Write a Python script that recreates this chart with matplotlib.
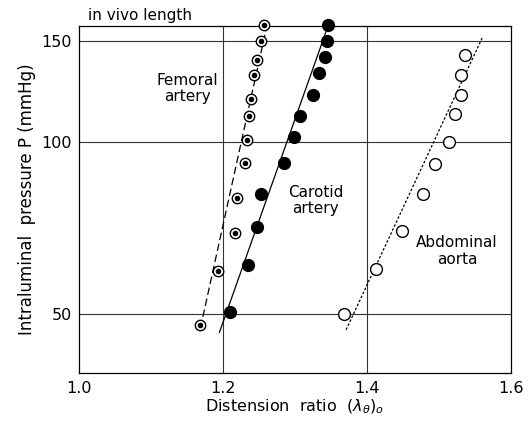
import matplotlib
matplotlib.use('Agg')
import matplotlib.pyplot as plt

# (distension ratio, pressure mmHg)
femoral_x = [1.257, 1.253, 1.247, 1.243, 1.239, 1.236, 1.233, 1.231, 1.219, 1.217, 1.193, 1.168]
femoral_p = [160, 150, 139, 131, 119, 111, 101, 92, 80, 69.5, 59.5, 48]
carotid_x = [1.346, 1.344, 1.342, 1.333, 1.325, 1.307, 1.299, 1.285, 1.253, 1.247, 1.235, 1.210]
carotid_p = [160, 150, 141, 132, 121, 111, 102, 92, 81, 71, 61, 50.5]
aorta_x = [1.536, 1.531, 1.531, 1.522, 1.514, 1.494, 1.478, 1.449, 1.413, 1.368]
aorta_p = [142, 131, 121, 112, 100, 91.5, 81, 70, 60, 50]

# fitted lines (end points)
femoral_fit_x = [1.172, 1.262]
femoral_fit_p = [49.5, 162]
carotid_fit_x = [1.195, 1.347]
carotid_fit_p = [46.5, 161]
aorta_fit_x = [1.371, 1.561]
aorta_fit_p = [47, 153]

xticks = [1.0, 1.2, 1.4, 1.6]
yticks = [50, 100, 150]

plt.rcParams['font.family'] = ['DejaVu Sans']

fig = plt.figure(figsize=(5.31, 4.22), dpi=100)
ax = fig.add_axes([79/531, 1-373/422, 432/531, 347/422])

ax.set_yscale('log')
ax.set_xlim(1.0, 1.6)
ax.set_ylim(39.5, 159.5)

for t in xticks[1:-1]:
    ax.axvline(t, color='0.2', lw=0.8, zorder=1)
for t in yticks:
    ax.axhline(t, color='0.2', lw=0.8, zorder=1)

ax.plot(femoral_fit_x, femoral_fit_p, color='k', lw=0.9, ls=(0, (6, 3)), clip_on=False, zorder=2)
ax.plot(carotid_fit_x, carotid_fit_p, color='k', lw=0.9, clip_on=False, zorder=2)
ax.plot(aorta_fit_x, aorta_fit_p, color='k', lw=0.9, ls=(0, (2, 1.5)), clip_on=False, zorder=2)

ax.plot(femoral_x, femoral_p, 'o', ms=7.5, mfc='white', mec='k', mew=1.0, clip_on=False, zorder=3)
ax.plot(femoral_x, femoral_p, 'o', ms=3, mfc='k', mec='k', clip_on=False, zorder=4)
ax.plot(carotid_x, carotid_p, 'o', ms=8.5, mfc='k', mec='k', clip_on=False, zorder=3)
ax.plot(aorta_x, aorta_p, 'o', ms=8.5, mfc='white', mec='k', mew=1.0, clip_on=False, zorder=3)

ax.text(1.151, 124, 'Femoral\nartery', ha='center', va='center', fontsize=11, linespacing=1.1)
ax.text(1.329, 79, 'Carotid\nartery', ha='center', va='center', fontsize=11, linespacing=1.1)
ax.text(1.525, 64.5, 'Abdominal\naorta', ha='center', va='center', fontsize=11, linespacing=1.1)
ax.text(0.021, 1.03, 'in vivo length', transform=ax.transAxes, ha='left', va='center', fontsize=11)

ax.set_xticks(xticks)
ax.set_xticklabels(['1.0', '1.2', '1.4', '1.6'])
ax.set_yticks(yticks)
ax.set_yticklabels(['50', '100', '150'])
ax.minorticks_off()
ax.tick_params(axis='x', length=0, labelsize=11.5, pad=6)
ax.tick_params(axis='y', length=0, labelsize=11.5, pad=5)

ax.set_xlabel('Distension  ratio  $(\\lambda_\\theta)_o$', fontsize=11.5, labelpad=1)
ax.set_ylabel('Intraluminal  pressure P (mmHg)', fontsize=12, labelpad=4)

for s in ax.spines.values():
    s.set_linewidth(0.9)

fig.savefig('out.png', dpi=100)
